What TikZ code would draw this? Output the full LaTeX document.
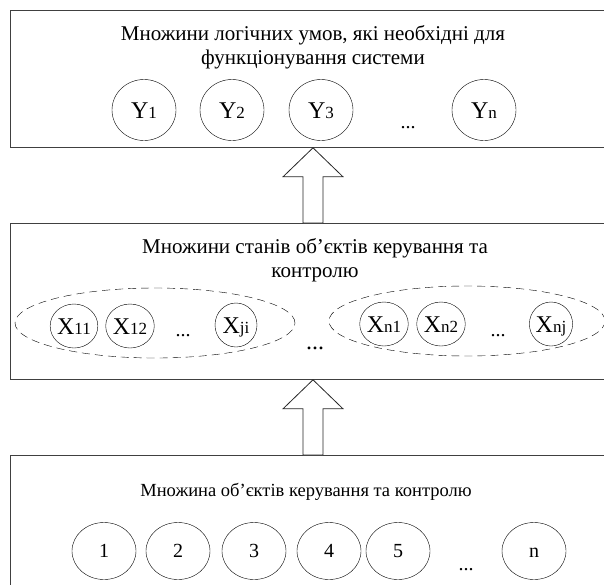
\documentclass[tikz,border=0pt]{standalone}
\usepackage{fontspec}
\setmainfont{Liberation Serif}
\usetikzlibrary{positioning, calc, shapes.geometric}

% hollow block arrow: #1 = tail point, #2 = tip point
\newcommand{\hollowup}[2]{%
  \draw[hollow] (#2) -- ++(30,29) -- ++(-20,0) -- ($(#1)+(10,0)$)
    -- ($(#1)+(-10,0)$) -- ($(#2)+(-10,29)$) -- ++(-20,0) -- cycle;}
\newcommand{\idx}[1]{{\fontsize{17}{17}\selectfont #1}}

\begin{document}
\begin{tikzpicture}[
    x=1pt, y=-1pt,
    layer/.style={draw=black!75, line width=0.8pt, rectangle, anchor=north west, minimum width=640pt, inner sep=0pt},
    caption/.style={align=center, font=\fontsize{21}{24}\selectfont},
    ynode/.style={draw, ellipse, minimum width=64pt, minimum height=61pt, inner sep=0pt, text height=16pt, text depth=0pt, font=\fontsize{24}{24}\selectfont},
    xnode/.style={draw, ellipse, minimum width=42pt, minimum height=44pt, inner sep=0pt, text height=16pt, text depth=0pt, font=\fontsize{24}{24}\selectfont},
    objnode/.style={draw, ellipse, minimum width=64pt, minimum height=57pt, inner sep=0pt, text height=13pt, text depth=0pt, font=\fontsize{20}{20}\selectfont},
    group/.style={draw, ellipse, dash pattern=on 8pt off 5pt, minimum width=280pt, minimum height=70pt, inner sep=0pt},
    dots/.style={font=\fontsize{20}{20}\selectfont, inner sep=0pt},
    hollow/.style={draw=black!85, line width=0.8pt, fill=white, line join=miter}
]
\useasboundingbox (0,0) rectangle (604,584);
\clip (0,0) rectangle (604,584);

% three layers
\node (topbox) [layer, minimum height=137pt] at (10,10) {};
\node (midbox) [layer, minimum height=156pt] at (10,223) {};
\node (botbox) [layer, minimum height=170pt] at (10,455) {};

% logical conditions
\node (topcap) [caption] at (313,47) {Множини логічних умов, які необхідні для\\функціонування системи};
\node (y1) [ynode] at (144,110) {Y\idx{1}};
\node (y2) [ynode] at (232,110) {Y\idx{2}};
\node (y3) [ynode] at (321,110) {Y\idx{3}};
\node (yn) [ynode] at (484,110) {Y\idx{n}};
\node (ydots) [dots] at (408,128) {...};

% states of objects
\node (midcap) [caption] at (315,260) {Множини станів об’єктів керування та\\контролю};
\node (g1) [group] at (155,323) {};
\node (g2) [group, minimum width=276pt] at (467,321) {};
\node (x11) [xnode] at (74,326) {X\idx{11}};
\node (x12) [xnode] at (130,326) {X\idx{12}};
\node (xji) [xnode] at (236,325) {X\idx{ji}};
\node (xn1) [xnode] at (384,324) {X\idx{n1}};
\node (xn2) [xnode] at (441,324) {X\idx{n2}};
\node (xnj) [xnode] at (551,324) {X\idx{nj}};
\node (g1dots) [dots] at (183,336) {...};
\node (g2dots) [dots] at (498,336) {...};
\node (gdots) [dots, font=\fontsize{24}{24}\selectfont] at (315,348) {...};

% objects
\node (botcap) [caption, font=\fontsize{18.5}{22}\selectfont] at (306,492) {Множина об’єктів керування та контролю};
\node (o1) [objnode] at (104,551) {1};
\node (o2) [objnode] at (178,551) {2};
\node (o3) [objnode] at (254,551) {3};
\node (o4) [objnode] at (329,551) {4};
\node (o5) [objnode] at (398,551) {5};
\node (on) [objnode] at (534,551) {n};
\node (odots) [dots] at (466,570) {...};

% block arrows between layers
\coordinate (axis) at (313,0);
\hollowup{midbox.north -| axis}{topbox.south -| axis}
\hollowup{botbox.north -| axis}{midbox.south -| axis}

\end{tikzpicture}
\end{document}
